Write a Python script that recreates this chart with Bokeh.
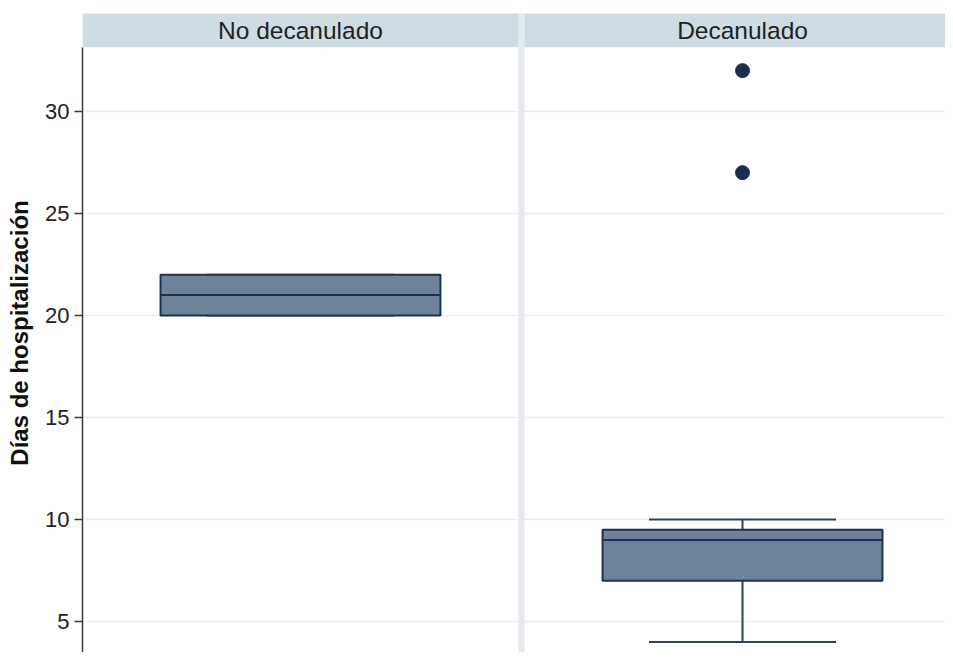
from bokeh.plotting import figure
from bokeh.models import Range1d, FixedTicker
from bokeh.core.properties import value
from bokeh.embed import file_html
from bokeh.resources import INLINE

# ---- data ----
groups = ["No decanulado", "Decanulado"]
q1 = [20, 7]
median = [21, 9]
q3 = [22, 9.5]
whisk_lo = [20, 4]
whisk_hi = [22, 10]
outlier_group = [1, 1]          # index into groups
outlier_values = [27, 32]
y_ticks = [5, 10, 15, 20, 25, 30]
y_label = "Días de hospitalización"

# ---- layout constants ----
PANEL_W = 1.0
GAP = 0.0138
centers = [i * (PANEL_W + GAP) + PANEL_W / 2 for i in range(len(groups))]
BOX_HALF = 0.321
CAP_HALF = 0.2145
Y_LO, Y_HI = 3.48, 34.80
HEAD_LO = 33.14

FONT = value("Liberation Sans")
BOX_FILL = "#6e8399"
BOX_LINE = "#1d3250"
HEAD_FILL = "#cfdce4"
SEP_FILL = "#e2eaee"

p = figure(width=945, height=652, output_backend="svg", toolbar_location=None,
           x_range=Range1d(0, 863 / 436), y_range=Range1d(Y_LO, Y_HI),
           x_axis_location=None, min_border_left=82, min_border_top=13,
           min_border_right=0, min_border_bottom=0)
p.outline_line_color = None
p.background_fill_color = "white"
p.border_fill_color = "white"

# grid
p.xgrid.visible = False
p.ygrid.ticker = FixedTicker(ticks=y_ticks)
p.ygrid.grid_line_color = "#e6eef1"
p.ygrid.grid_line_width = 1.5

# y axis
ax = p.yaxis[0]
ax.ticker = FixedTicker(ticks=y_ticks)
ax.bounds = (Y_LO - 1, HEAD_LO)
ax.axis_line_color = "#3a3a3a"
ax.axis_line_width = 1.5
ax.major_tick_line_color = "#3a3a3a"
ax.major_tick_line_width = 1.5
ax.major_tick_out = 8
ax.major_tick_in = 0
ax.minor_tick_line_color = None
ax.major_label_text_font = "Liberation Sans"
ax.major_label_text_font_size = "22px"
ax.major_label_text_color = "#222222"
ax.major_label_standoff = 5
ax.axis_label = y_label
ax.axis_label_text_font = "Liberation Sans"
ax.axis_label_text_font_size = "24px"
ax.axis_label_text_font_style = "bold"
ax.axis_label_text_color = "#111111"
ax.axis_label_standoff = 9

# panel separators and headers
n = len(groups)
sep_left = [centers[i] + PANEL_W / 2 for i in range(n - 1)]
p.quad(left=sep_left, right=[s + GAP for s in sep_left],
       bottom=Y_LO - 1, top=Y_HI + 1, fill_color=SEP_FILL, line_color=None)
p.quad(left=[c - PANEL_W / 2 for c in centers], right=[c + PANEL_W / 2 for c in centers],
       bottom=HEAD_LO, top=Y_HI + 1, fill_color=HEAD_FILL, line_color=None)
p.text(x=centers, y=[(HEAD_LO + Y_HI) / 2] * n, text=groups,
       text_font=FONT, text_font_size="24.5px", text_color="#222222",
       text_align="center", text_baseline="middle")

# whisker stems
p.segment(x0=centers, y0=whisk_lo, x1=centers, y1=q1, line_color="#2b4260", line_width=2)
p.segment(x0=centers, y0=q3, x1=centers, y1=whisk_hi, line_color="#2b4260", line_width=2)
# caps
p.segment(x0=[c - CAP_HALF for c in centers], y0=whisk_lo,
          x1=[c + CAP_HALF for c in centers], y1=whisk_lo, line_color="#2b4260", line_width=2)
p.segment(x0=[c - CAP_HALF for c in centers], y0=whisk_hi,
          x1=[c + CAP_HALF for c in centers], y1=whisk_hi, line_color="#2b4260", line_width=2)
# boxes
p.quad(left=[c - BOX_HALF for c in centers], right=[c + BOX_HALF for c in centers],
       bottom=q1, top=q3, fill_color=BOX_FILL, line_color=BOX_LINE, line_width=2)
# medians
p.segment(x0=[c - BOX_HALF for c in centers], y0=median,
          x1=[c + BOX_HALF for c in centers], y1=median, line_color=BOX_LINE, line_width=2)
# outliers
p.scatter(x=[centers[g] for g in outlier_group], y=outlier_values, size=14,
          fill_color="#1a2d4f", line_color="#1a2d4f", marker="circle")

open("out.html", "w").write(file_html(p, INLINE))
